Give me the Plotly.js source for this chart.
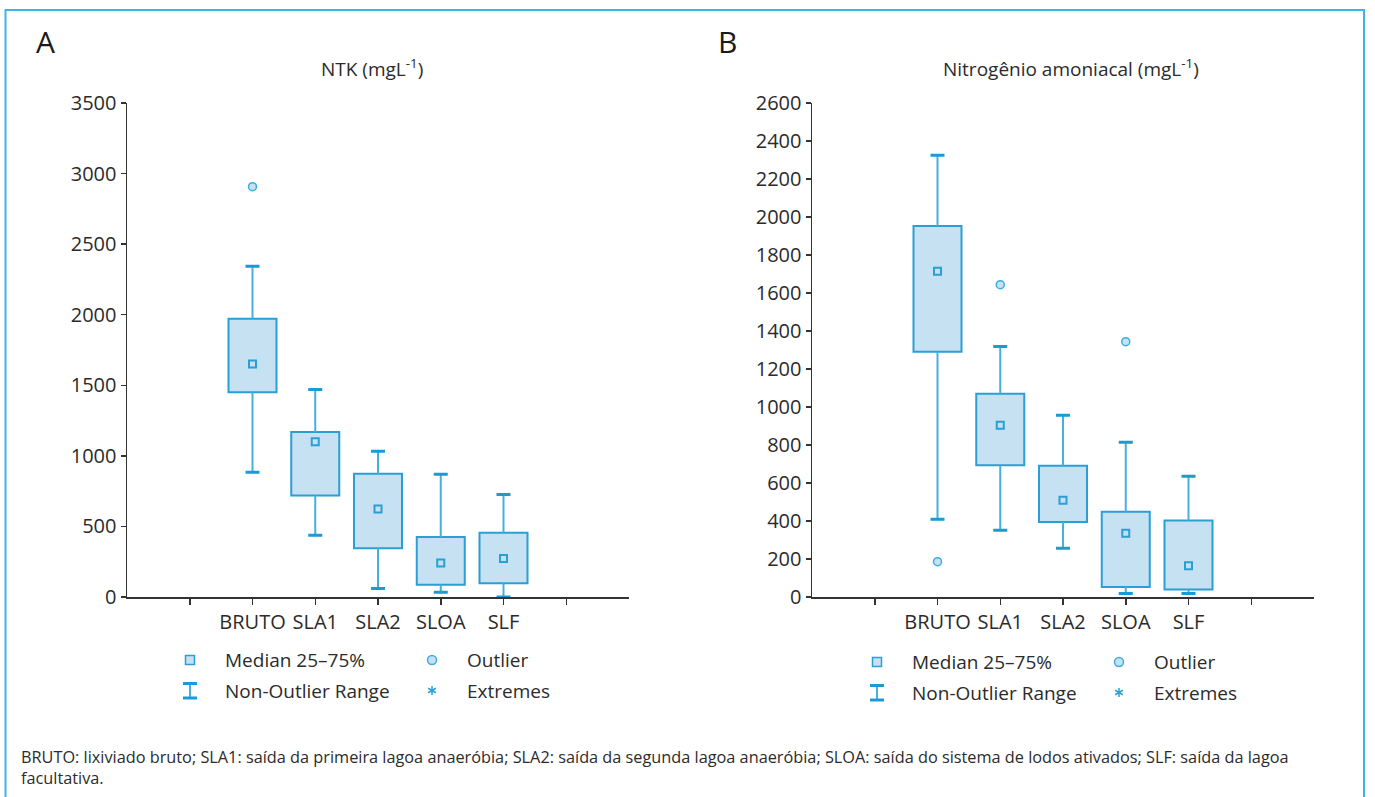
<!DOCTYPE html>
<html>
<head>
<meta charset="utf-8">
<script src="https://cdn.plot.ly/plotly-3.0.1.min.js"></script>
<style>
  html, body { margin: 0; padding: 0; background: #ffffff; }
  #chart { width: 1375px; height: 797px; }
</style>
</head>
<body>
<div id="chart"></div>
<script>
// ---------------- DATA ----------------
const categories = ['BRUTO', 'SLA1', 'SLA2', 'SLOA', 'SLF'];

// Panel A: NTK (mg/L)
const ntkQ1     = [1450, 720, 345, 87, 97];
const ntkMedian = [1651, 1100, 623, 241, 272];
const ntkQ3     = [1972, 1169, 874, 425, 456];
const ntkLower  = [883, 437, 61, 33, 0];
const ntkUpper  = [2343, 1471, 1032, 869, 727];
const ntkOutlierCat = ['BRUTO'];
const ntkOutlierVal = [2907];

// Panel B: Nitrogênio amoniacal (mg/L)
const nhQ1     = [1291, 693, 395, 53, 40];
const nhMedian = [1714, 904, 509, 335, 165];
const nhQ3     = [1953, 1070, 691, 449, 402];
const nhLower  = [409, 351, 256, 19, 19];
const nhUpper  = [2325, 1319, 956, 814, 635];
const nhOutlierCat = ['BRUTO', 'SLA1', 'SLOA'];
const nhOutlierVal = [186, 1644, 1344];

const tickPositions = [1, 2, 3, 4, 5];
const tickLabels = ['BRUTO', 'SLA1', 'SLA2', 'SLOA', 'SLF'];
const extraTickPositions = [0, 6];

const titleA = 'NTK (mgL<sup>-1</sup>)';
const titleB = 'Nitrogênio amoniacal (mgL<sup>-1</sup>)';
const legendLabels = ['Median 25–75%', 'Outlier', 'Non-Outlier Range', 'Extremes'];
const footnote = 'BRUTO: lixiviado bruto; SLA1: saída da primeira lagoa anaeróbia; SLA2: saída da segunda lagoa anaeróbia; SLOA: saída do sistema de lodos ativados; SLF: saída da lagoa<br>facultativa.';

// ---------------- STYLE ----------------
const W = 1375, H = 797;
const FONT = '"Open Sans", "DejaVu Sans", sans-serif';
const TXT = '#2b2b2b';
const FILL = '#c5e1f2';
const EDGE = '#2a9fd6';
const WHISK = '#45b0e0';
const CAP = '#1a9bd3';
const FRAME = '#3cb4e6';

const px = v => v / W;
const py = v => 1 - v / H;
const pos = c => categories.indexOf(c) + 1;

function panelTraces(q1, med, q3, lo, hi, outCat, outVal, xa, ya) {
  const xs = categories.map(pos);
  const zeros = categories.map(() => 0);
  return [
    { type: 'bar', x: xs, base: q1, y: q3.map((v, i) => v - q1[i]), width: 0.765,
      marker: { color: FILL, line: { color: EDGE, width: 2 } },
      xaxis: xa, yaxis: ya, hoverinfo: 'skip' },
    { type: 'scatter', mode: 'markers', x: xs, y: q3, marker: { size: 1, opacity: 0 },
      error_y: { type: 'data', symmetric: false, array: hi.map((v, i) => v - q3[i]), arrayminus: zeros,
                 width: 0, thickness: 2, color: WHISK },
      xaxis: xa, yaxis: ya, hoverinfo: 'skip' },
    { type: 'scatter', mode: 'markers', x: xs, y: q1, marker: { size: 1, opacity: 0 },
      error_y: { type: 'data', symmetric: false, array: zeros, arrayminus: q1.map((v, i) => v - lo[i]),
                 width: 0, thickness: 2, color: WHISK },
      xaxis: xa, yaxis: ya, hoverinfo: 'skip' },
    { type: 'scatter', mode: 'markers', x: xs.concat(xs), y: hi.concat(lo), marker: { size: 1, opacity: 0 },
      error_y: { type: 'data', array: zeros.concat(zeros), width: 7, thickness: 3, color: CAP },
      xaxis: xa, yaxis: ya, hoverinfo: 'skip' },
    { type: 'scatter', mode: 'markers', x: xs, y: med,
      marker: { symbol: 'square', size: 7, color: FILL, line: { color: EDGE, width: 2 } },
      xaxis: xa, yaxis: ya, hoverinfo: 'skip' },
    { type: 'scatter', mode: 'markers', x: outCat.map(pos), y: outVal,
      marker: { symbol: 'circle', size: 8, color: FILL, line: { color: '#3aaee0', width: 1.5 } },
      xaxis: xa, yaxis: ya, hoverinfo: 'skip' }
  ];
}

const data = []
  .concat(panelTraces(ntkQ1, ntkMedian, ntkQ3, ntkLower, ntkUpper, ntkOutlierCat, ntkOutlierVal, 'x', 'y'))
  .concat(panelTraces(nhQ1, nhMedian, nhQ3, nhLower, nhUpper, nhOutlierCat, nhOutlierVal, 'x2', 'y2'));

const xBase = {
  range: [-1, 7], tickmode: 'array', tickvals: tickPositions, ticktext: tickLabels,
  ticks: 'outside', ticklen: 6, tickwidth: 1.5, tickcolor: '#333',
  minor: { tickmode: 'array', tickvals: extraTickPositions, ticks: 'outside', ticklen: 6, tickwidth: 1.5, tickcolor: '#333', showgrid: false },
  showline: true, linecolor: '#333', linewidth: 1.5,
  showgrid: false, zeroline: false, fixedrange: true,
  tickfont: { family: FONT, size: 20, color: TXT }
};
const yBase = {
  ticks: 'outside', ticklen: 5, tickwidth: 1.5, tickcolor: '#333',
  showline: true, linecolor: '#333', linewidth: 1.5,
  showgrid: false, zeroline: false, fixedrange: true,
  tickfont: { family: FONT, size: 20, color: TXT }
};

const yDom = [py(597), py(103)];

const shapes = [
  { type: 'rect', xref: 'paper', yref: 'paper', x0: px(5.5), x1: px(1364), y0: py(10), y1: py(830),
    line: { color: FRAME, width: 2 }, fillcolor: 'rgba(0,0,0,0)' }
];
const annotations = [];

function legend(dx, dy) {
  const sx = 190 + dx, ox = 432 + dx, r1 = 660 + dy, r2 = 690.5 + dy;
  shapes.push({ type: 'rect', xref: 'paper', yref: 'paper', x0: px(sx - 4.5), x1: px(sx + 4.5), y0: py(r1 + 4.5), y1: py(r1 - 4.5),
    line: { color: EDGE, width: 1.5 }, fillcolor: FILL });
  shapes.push({ type: 'circle', xref: 'paper', yref: 'paper', x0: px(ox - 4.5), x1: px(ox + 4.5), y0: py(r1 + 4.5), y1: py(r1 - 4.5),
    line: { color: '#3aaee0', width: 1.5 }, fillcolor: FILL });
  // Non-outlier range symbol
  shapes.push({ type: 'line', xref: 'paper', yref: 'paper', x0: px(sx), x1: px(sx), y0: py(r2 - 7), y1: py(r2 + 7),
    line: { color: WHISK, width: 2 } });
  shapes.push({ type: 'line', xref: 'paper', yref: 'paper', x0: px(sx - 7), x1: px(sx + 7), y0: py(r2 - 7), y1: py(r2 - 7),
    line: { color: CAP, width: 3 } });
  shapes.push({ type: 'line', xref: 'paper', yref: 'paper', x0: px(sx - 7), x1: px(sx + 7), y0: py(r2 + 7.5), y1: py(r2 + 7.5),
    line: { color: CAP, width: 3 } });
  // asterisk
  const ar = 4.5;
  [90, 30, 150].forEach(a => {
    const t = a * Math.PI / 180;
    shapes.push({ type: 'line', xref: 'paper', yref: 'paper',
      x0: px(ox - ar * Math.cos(t)), x1: px(ox + ar * Math.cos(t)),
      y0: py(r2 + ar * Math.sin(t)), y1: py(r2 - ar * Math.sin(t)),
      line: { color: EDGE, width: 1.5 } });
  });
  const tx1 = 223 + dx, tx2 = 465 + dx;
  [[tx1, r1, legendLabels[0]], [tx2, r1, legendLabels[1]], [tx1, r2, legendLabels[2]], [tx2, r2, legendLabels[3]]].forEach(e => {
    annotations.push({ xref: 'paper', yref: 'paper', x: px(e[0]), y: py(e[1]), xanchor: 'left', yanchor: 'middle',
      text: e[2], showarrow: false, font: { family: FONT, size: 19, color: TXT } });
  });
}
legend(0, 0);
legend(687, 2);

annotations.push(
  { xref: 'paper', yref: 'paper', x: px(34), y: py(41), xanchor: 'left', yanchor: 'middle', text: 'A',
    showarrow: false, font: { family: FONT, size: 30, color: '#1a1a1a' } },
  { xref: 'paper', yref: 'paper', x: px(716), y: py(41), xanchor: 'left', yanchor: 'middle', text: 'B',
    showarrow: false, font: { family: FONT, size: 30, color: '#1a1a1a' } },
  { xref: 'paper', yref: 'paper', x: px(372), y: py(68), xanchor: 'center', yanchor: 'middle', text: titleA,
    showarrow: false, font: { family: FONT, size: 19, color: TXT } },
  { xref: 'paper', yref: 'paper', x: px(1071), y: py(68), xanchor: 'center', yanchor: 'middle', text: titleB,
    showarrow: false, font: { family: FONT, size: 19, color: TXT } },
  { xref: 'paper', yref: 'paper', x: px(19), y: py(767), xanchor: 'left', yanchor: 'middle', align: 'left',
    text: footnote, showarrow: false, font: { family: FONT, size: 16.3, color: TXT } }
);

const layout = {
  width: W, height: H,
  margin: { l: 0, r: 0, t: 0, b: 0, pad: 0 },
  paper_bgcolor: '#ffffff', plot_bgcolor: 'rgba(0,0,0,0)',
  showlegend: false, barmode: 'overlay',
  xaxis: Object.assign({}, xBase, { domain: [px(127), px(629)], anchor: 'y' }),
  yaxis: Object.assign({}, yBase, { domain: yDom, range: [0, 3500], dtick: 500, tick0: 0, anchor: 'x' }),
  xaxis2: Object.assign({}, xBase, { domain: [px(812), px(1314)], anchor: 'y2' }),
  yaxis2: Object.assign({}, yBase, { domain: yDom, range: [0, 2600], dtick: 200, tick0: 0, anchor: 'x2' }),
  shapes: shapes,
  annotations: annotations
};

Plotly.newPlot('chart', data, layout, { displayModeBar: false, staticPlot: true });
</script>
</body>
</html>
